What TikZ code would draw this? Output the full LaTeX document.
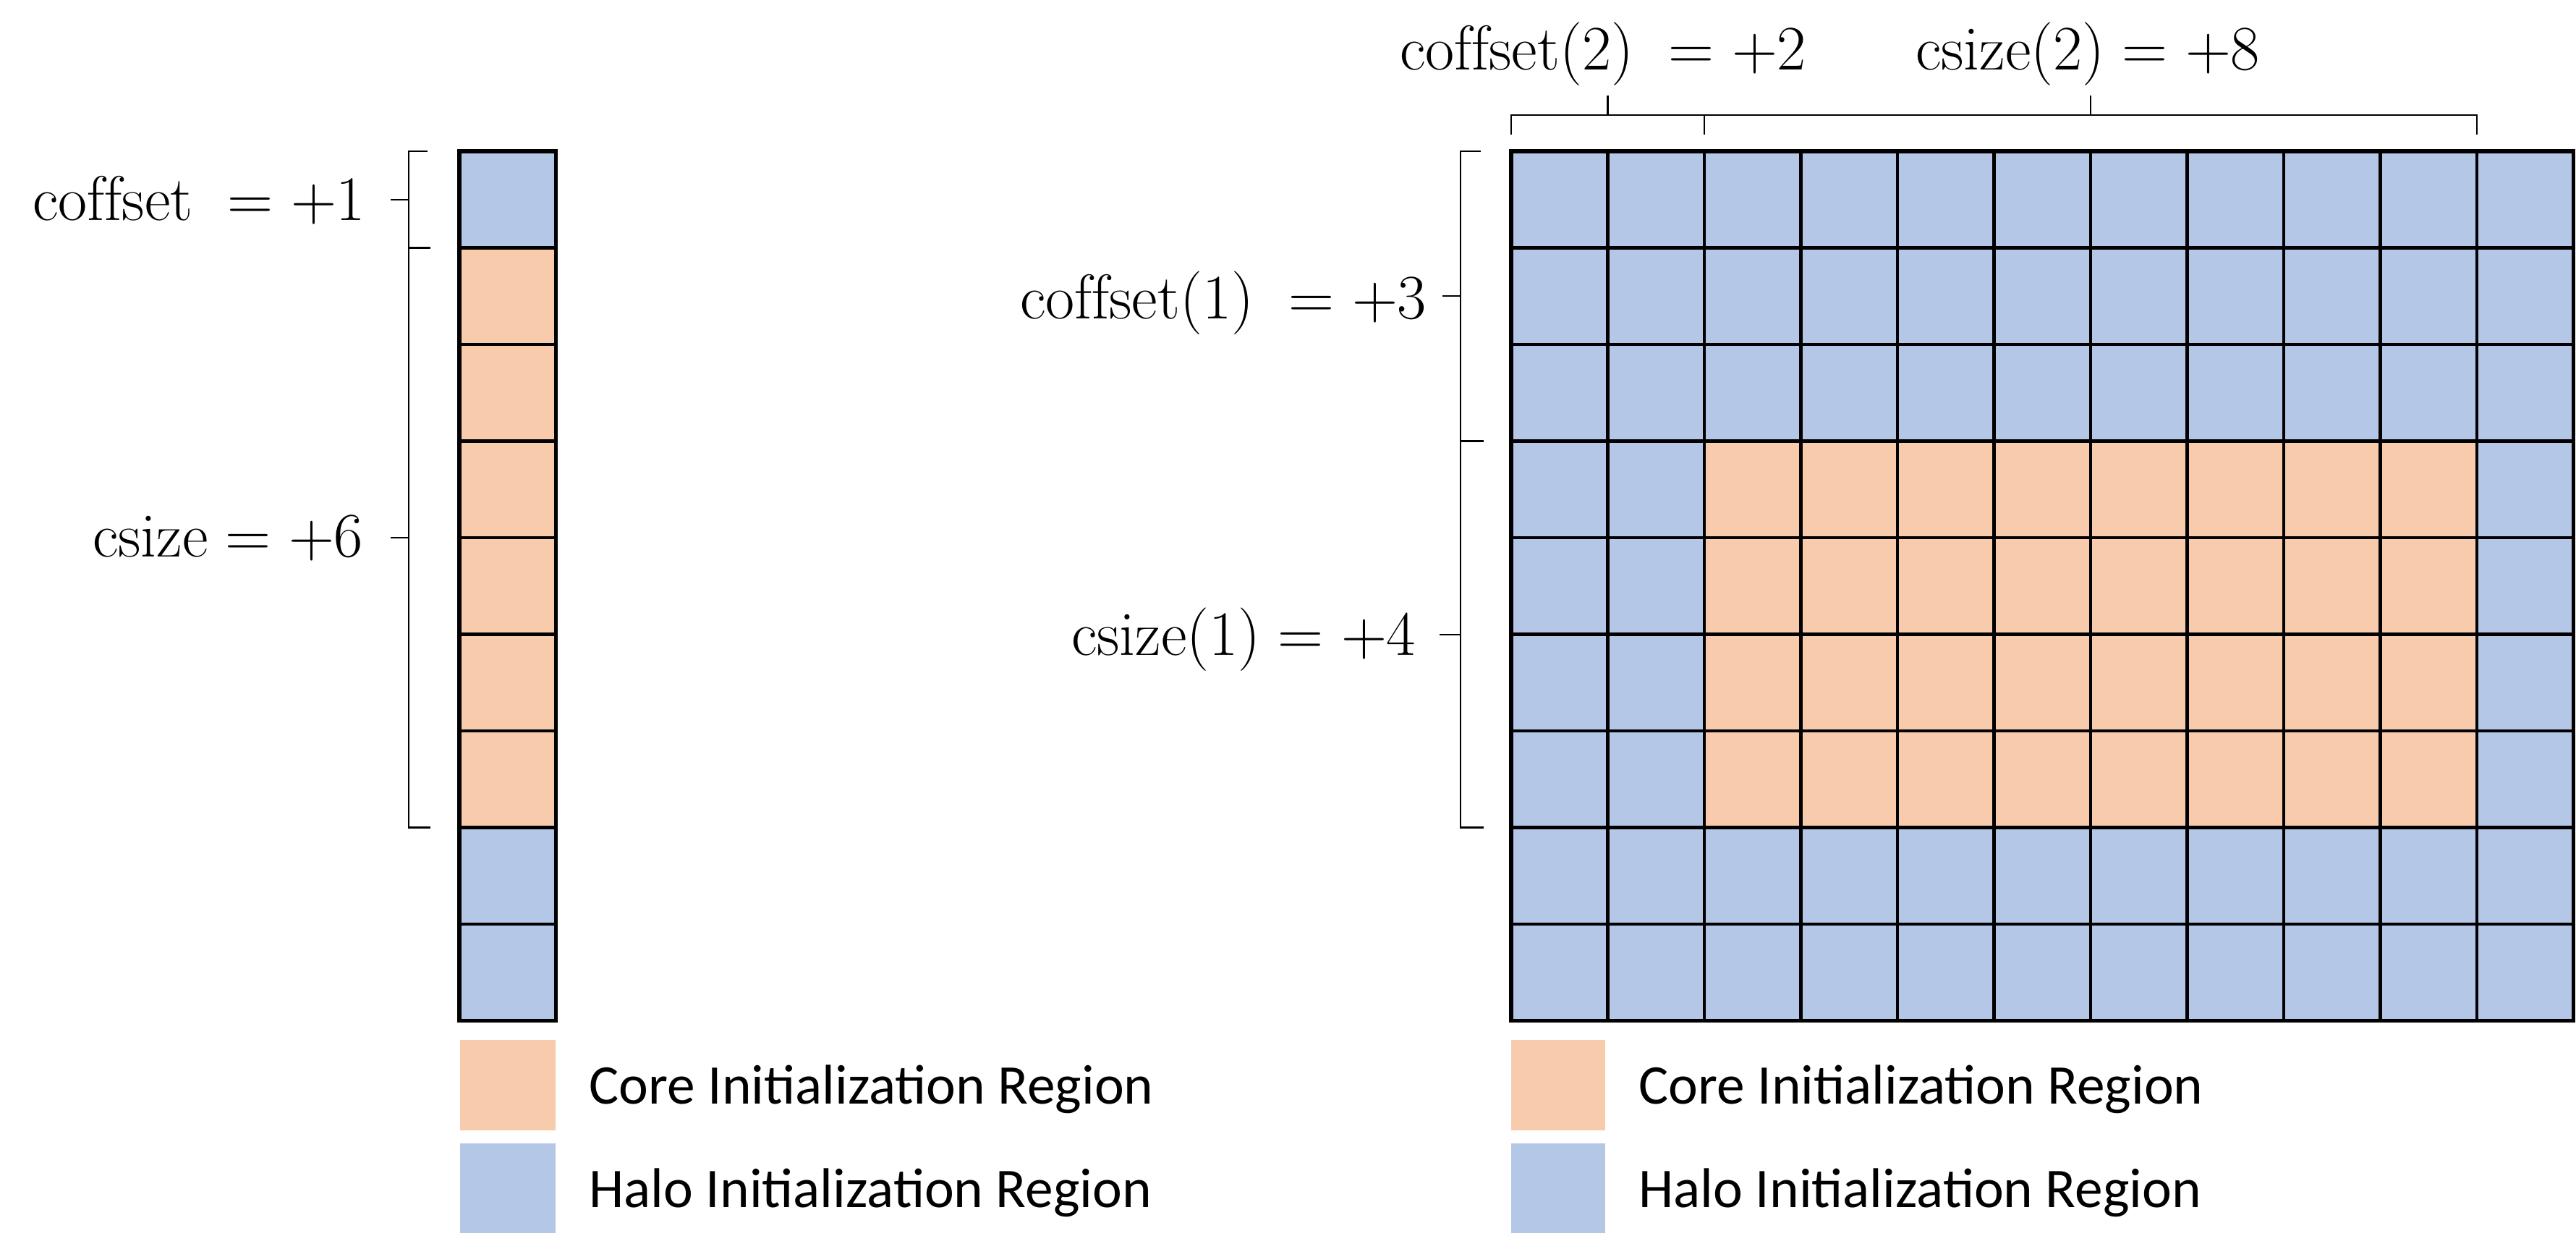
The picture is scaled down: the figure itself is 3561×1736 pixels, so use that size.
\documentclass[tikz,border=0pt]{standalone}
\usepackage{fontspec}
\newfontfamily\legfont{Carlito}
\definecolor{halo}{HTML}{B4C7E7}
\definecolor{core}{HTML}{F8CBAD}
\begin{document}
\begin{tikzpicture}[x=0.01cm,y=-0.01cm,
  cell/.style={draw=black,line width=1.2pt},
  outer/.style={draw=black,line width=1.5pt},
  brk/.style={draw=black,line width=0.6pt},
  lbl/.style={inner sep=0pt,font=\fontsize{24.8}{29}\selectfont},
  leg/.style={inner sep=0pt,font=\legfont\fontsize{22}{26}\selectfont,anchor=base west}]
\useasboundingbox (0,0) rectangle (3561,1736);
% ---------- left column ----------
\fill[halo] (635,209) rectangle (768.5,1410.5);
\fill[core] (635,342.5) rectangle (768.5,1143.5);
\foreach \i in {1,...,8}
  \draw[cell] (635,{209+\i*133.5}) -- (768.5,{209+\i*133.5});
\draw[outer] (635,209) rectangle (768.5,1410.5);
% ---------- right grid ----------
\fill[halo] (2089,209) rectangle (3557.5,1410.5);
\fill[core] (2356,609.5) rectangle (3424,1143.5);
\foreach \i in {1,...,8}
  \draw[cell] (2089,{209+\i*133.5}) -- (3557.5,{209+\i*133.5});
\foreach \j in {1,...,10}
  \draw[cell] ({2089+\j*133.5},209) -- ({2089+\j*133.5},1410.5);
\draw[outer] (2089,209) rectangle (3557.5,1410.5);
% ---------- left brackets ----------
\draw[brk] (591,209) -- (565,209) -- (565,1143.5) -- (595,1143.5);
\draw[brk] (565,342.5) -- (595,342.5);
\draw[brk] (540,275.7) -- (565,275.7);
\draw[brk] (540,743) -- (565,743);
% ---------- right brackets ----------
\draw[brk] (2047,209) -- (2019,209) -- (2019,1143.5) -- (2051,1143.5);
\draw[brk] (2019,609.5) -- (2051,609.5);
\draw[brk] (1994,409) -- (2019,409);
\draw[brk] (1990,877) -- (2019,877);
% ---------- top brackets ----------
\draw[brk] (2089,186) -- (2089,159) -- (3424,159) -- (3424,186);
\draw[brk] (2356,159) -- (2356,186);
\draw[brk] (2222.5,132) -- (2222.5,159);
\draw[brk] (2890,132) -- (2890,159);
% ---------- labels ----------
\node[lbl,anchor=base east] (lofs) at (506,304) {$\mathrm{coffset}\;=+1$};
\node[lbl,anchor=base east] (lsz) at (503,769) {$\mathrm{csize}=+6$};
\node[lbl,anchor=base east] (rofs1) at (1973,440) {$\mathrm{coffset}(1)\;=+3$};
\node[lbl,anchor=base east] (rsz1) at (1958,905) {$\mathrm{csize}(1)=+4$};
\node[lbl,anchor=base east] (rofs2) at (2498,97) {$\mathrm{coffset}(2)\;=+2$};
\node[lbl,anchor=base east] (rsz2) at (3125,97) {$\mathrm{csize}(2)=+8$};
% ---------- legends ----------
\fill[core] (636,1437) rectangle (768,1562);
\fill[halo] (636,1580) rectangle (768,1704);
\node[leg] (lcore) at (814,1525) {Core Initialization Region};
\node[leg] (lhalo) at (814,1668) {Halo Initialization Region};
\fill[core] (2089,1437) rectangle (2219,1562);
\fill[halo] (2089,1580) rectangle (2219,1704);
\node[leg] (rcore) at (2265,1525) {Core Initialization Region};
\node[leg] (rhalo) at (2265,1668) {Halo Initialization Region};
\end{tikzpicture}
\end{document}
